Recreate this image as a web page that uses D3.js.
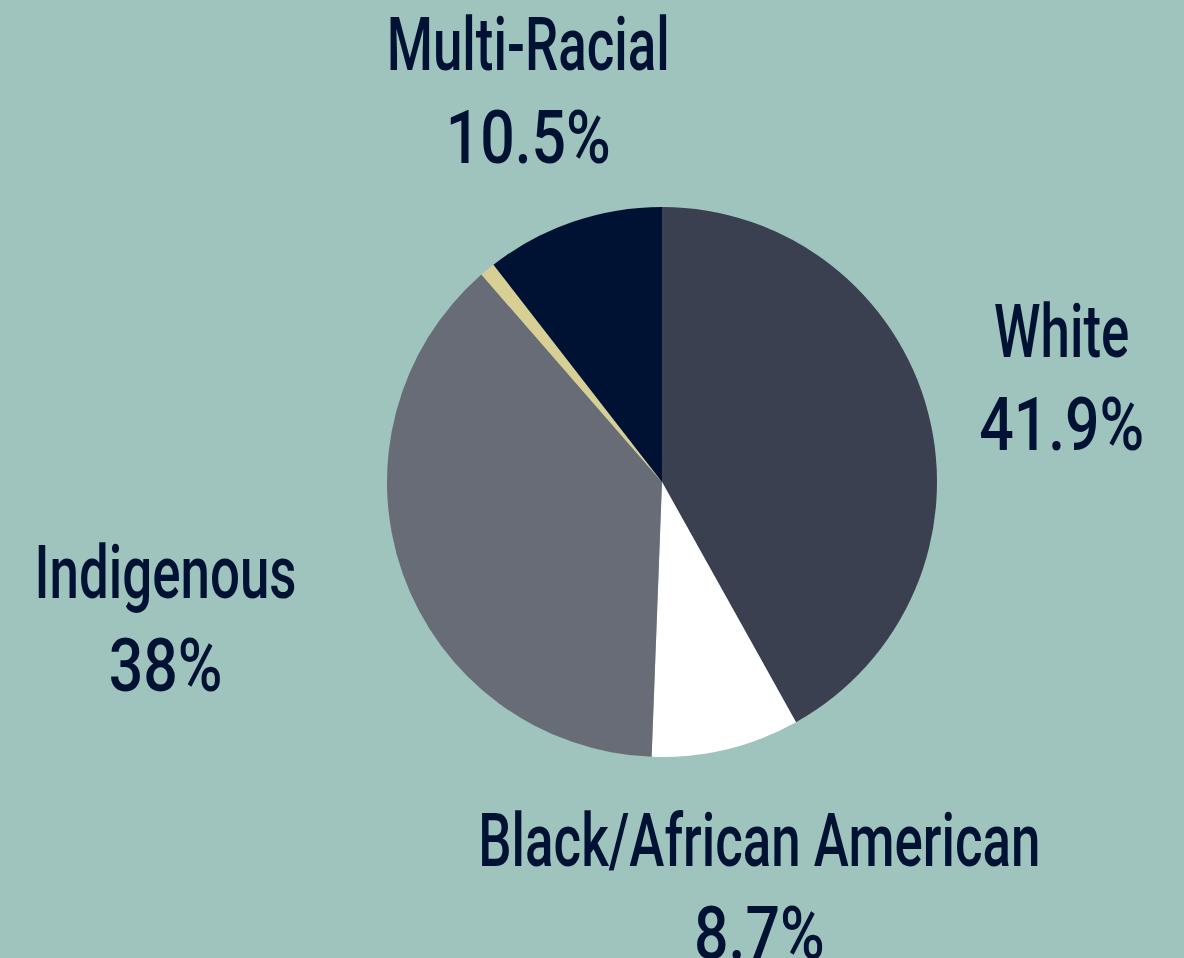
<!DOCTYPE html>
<html>
<head>
<meta charset="utf-8">
<script src="https://cdn.jsdelivr.net/npm/d3@7"></script>
<style>
html,body{margin:0;padding:0;background:#9fc3bd;overflow:hidden;}
svg{display:block;}
</style>
</head>
<body>
<svg id="chart" width="1184" height="958"></svg>
<script>
const categories = ["White", "Black/African American", "Indigenous", "Other", "Multi-Racial"];
const values = [41.9, 8.7, 38, 0.9, 10.5];
const valueLabels = ["41.9%", "8.7%", "38%", "", "10.5%"];
const colors = ["#3a4050", "#ffffff", "#686c76", "#d8cf94", "#001233"];
const showLabel = [true, true, true, false, true];
const labelRadius = [413, 417, 413, 0, 413];
const labelShiftX = [0, 0, -107, 0, 0];

const W = 1184, H = 958;
const cx = 662, cy = 482, R = 275;
const svg = d3.select("#chart");
svg.append("rect").attr("width", W).attr("height", H).attr("fill", "#9fc3bd");

const data = categories.map((c, i) => ({cat: c, value: values[i], label: valueLabels[i], color: colors[i], show: showLabel[i], lr: labelRadius[i], sx: labelShiftX[i]}));
const pie = d3.pie().value(d => d.value).sort(null);
const arc = d3.arc().innerRadius(0).outerRadius(R);
const arcs = pie(data);

const g = svg.append("g").attr("transform", `translate(${cx},${cy})`);
g.selectAll("path").data(arcs).join("path")
  .attr("d", arc).attr("fill", d => d.data.color);

const condense = [0.705, 0.81];
const lines = svg.append("g");
arcs.filter(a => a.data.show).forEach(a => {
  const mid = (a.startAngle + a.endAngle) / 2;
  const lx = cx + Math.sin(mid) * a.data.lr + a.data.sx;
  const ly = cy - Math.cos(mid) * a.data.lr;
  [a.data.cat, a.data.label].forEach((txt, k) => {
    lines.append("g").attr("transform", `translate(${lx},${ly + (k === 0 ? -21 : 72)}) scale(${condense[k]},1)`)
      .append("text").attr("x", 0).attr("y", 0)
      .attr("text-anchor", "middle")
      .attr("font-family", "Roboto, sans-serif")
      .attr("font-weight", 500)
      .attr("font-size", 75)
      .attr("fill", "#001233")
      .text(txt);
  });
});
</script>
</body>
</html>
